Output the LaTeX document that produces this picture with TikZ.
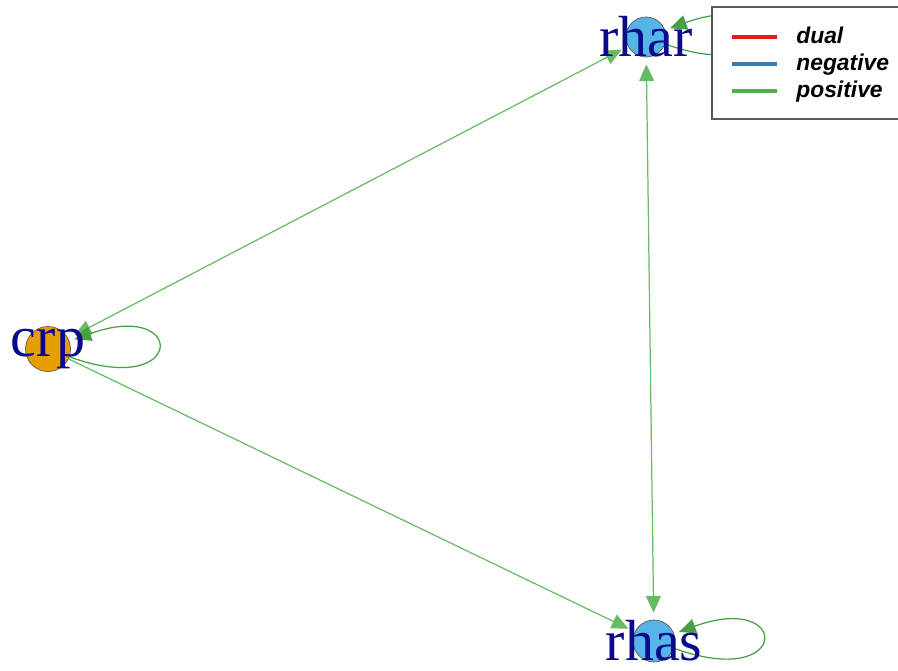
\documentclass[tikz,border=0pt]{standalone}
\usepackage{fontspec}
\setmainfont{Liberation Serif}
\newfontfamily\legendfont{Liberation Sans}
\usetikzlibrary{arrows.meta,backgrounds}
\definecolor{vblue}{HTML}{56B4E9}
\definecolor{vorange}{HTML}{E69F00}
\definecolor{vtext}{HTML}{0A0A8C}
\definecolor{egreen}{HTML}{4DAF4A}
\definecolor{ered}{HTML}{E41A1C}
\definecolor{eblue}{HTML}{377EB8}

\begin{document}
\begin{tikzpicture}[
        x = 0.02cm, y = -0.02cm,
        vert/.style   = {circle, draw=black!65, thin, minimum size=0.84cm, inner sep=0pt},
        vlabel/.style = {text=vtext, inner sep=0pt, font=\fontsize{33}{33}\selectfont},
        edge/.style   = {draw=egreen!85!white, line width=0.7pt,
                         -{Triangle[length=9.5pt,width=8.5pt]}, shorten >=4pt},
        both/.style   = {edge, {Triangle[length=9.5pt,width=8.5pt]}-{Triangle[length=9.5pt,width=8.5pt]},
                         shorten <=4pt},
        loopy/.style  = {edge, draw=egreen!92!black, shorten >=3pt, out=-20, in=20, distance=2.5cm},
        legline/.style = {line width=2.2pt},
        legtxt/.style = {anchor=base west, inner sep=0pt,
                         font=\legendfont\fontsize{13}{13}\selectfont\bfseries\itshape}
    ]
        \useasboundingbox (0,0) rectangle (898,670);

        \node[vert, fill=vorange, minimum size=0.9cm]  (crp)  at (48,349)  {};
        \node[vert, fill=vblue, minimum size=0.8cm]    (rhar) at (646,37)  {};
        \node[vert, fill=vblue]                        (rhas) at (654,641) {};
        \node[vlabel] (crp-t)  at (crp)  {crp};
        \node[vlabel] (rhar-t) at (rhar) {rhar};
        \node[vlabel] (rhas-t) at (rhas) {rhas};

        \begin{scope}[on background layer]
            \draw[both] (crp) -- (rhar);
            \draw[edge] (crp) -- (rhas);
            \draw[both] (rhar) -- (rhas);
            \draw[loopy] (crp) to (crp);
            \draw[loopy] (rhar) to (rhar);
            \draw[loopy] (rhas) to (rhas);
        \end{scope}

        % legend
        \draw[draw=black!65, fill=white, line width=1pt] (712,7) rectangle (905,119);
        \draw[legline, ered]    (732,37) -- (777,37);
        \draw[legline, eblue]   (732,64) -- (777,64);
        \draw[legline, egreen]  (732,91) -- (777,91);
        \node[legtxt] (lg-dual) at (796,43) {dual};
        \node[legtxt] (lg-neg)  at (796,70) {negative};
        \node[legtxt] (lg-pos)  at (796,97) {positive};
    \end{tikzpicture}
\end{document}
